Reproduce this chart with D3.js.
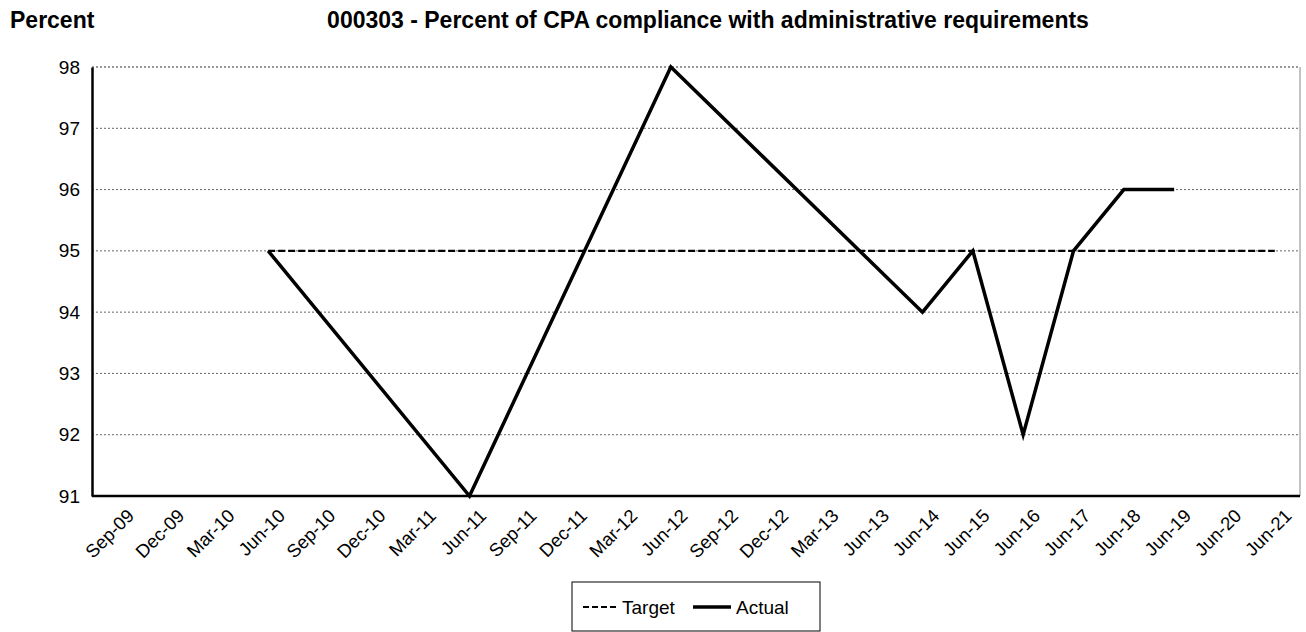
<!DOCTYPE html>
<html><head><meta charset="utf-8">
<script src="https://cdn.jsdelivr.net/npm/d3@7"></script>
<style>body{margin:0;background:#fff}text{font-family:"Liberation Sans",Arial,sans-serif}</style>
</head><body><svg id="c" width="1306" height="632"></svg>
<script>
const categories = ["Sep-09","Dec-09","Mar-10","Jun-10","Sep-10","Dec-10","Mar-11","Jun-11","Sep-11","Dec-11","Mar-12","Jun-12","Sep-12","Dec-12","Mar-13","Jun-13","Jun-14","Jun-15","Jun-16","Jun-17","Jun-18","Jun-19","Jun-20","Jun-21"];
const targetValues = [null,null,null,95,null,null,null,95,null,null,null,95,null,null,null,95,95,95,95,95,95,95,95,95];
const actualValues = [null,null,null,95,null,null,null,91,null,null,null,98,null,null,null,null,94,95,92,95,96,96,null,null];
const yTicks = [91,92,93,94,95,96,97,98];
const titleText = "000303 - Percent of CPA compliance with administrative requirements";
const yLabel = "Percent";

const svg = d3.select("#c");
const L=92, R=1300, T=67, B=496;
const FF = "Liberation Sans, Arial, sans-serif";
const x = d3.scaleBand().domain(categories).range([L,R]).padding(0);
const xc = c => x(c) + x.bandwidth()/2;
const y = d3.scaleLinear().domain([91,98]).range([B,T]);

// grid
svg.append("g").selectAll("line").data(yTicks.filter(v=>v>91)).join("line")
  .attr("x1",L).attr("x2",R).attr("y1",d=>y(d)).attr("y2",d=>y(d))
  .attr("stroke",d=>d===98?"#333":"#666").attr("stroke-width",1).attr("stroke-dasharray","2,2");
// right border
svg.append("line").attr("x1",R).attr("x2",R).attr("y1",T).attr("y2",B).attr("stroke","#888").attr("stroke-width",1);

// y axis
const ya = svg.append("g").attr("transform",`translate(${L},0)`).call(d3.axisLeft(y).tickValues(yTicks).tickFormat(d3.format("d")).tickSize(0).tickPadding(12));
ya.select(".domain").attr("stroke","#000").attr("stroke-width",2.5);
ya.selectAll("text").attr("font-size",19).attr("fill","#000").attr("font-family",FF);

// x axis
const xa = svg.append("g").attr("transform",`translate(0,${B})`).call(d3.axisBottom(x).tickSize(0).tickFormat(d=>d));
xa.select(".domain").attr("stroke","#000").attr("stroke-width",2.5).attr("d",`M${L},0H${R}`);
xa.selectAll("text").attr("font-size",18.5).attr("fill","#000").attr("font-family",FF)
  .attr("text-anchor","end").attr("dy",0).attr("y",0)
  .attr("transform","translate(18,21) rotate(-45)");

// lines
const lineGen = d3.line().x(d=>xc(d.c)).y(d=>y(d.v));
const tData = categories.map((c,i)=>({c,v:targetValues[i]})).filter(d=>d.v!=null);
const aData = categories.map((c,i)=>({c,v:actualValues[i]})).filter(d=>d.v!=null);
svg.append("path").datum(tData).attr("d",lineGen).attr("fill","none").attr("stroke","#000").attr("stroke-width",2.2).attr("stroke-dasharray","7,3");
svg.append("path").datum(aData).attr("d",lineGen).attr("fill","none").attr("stroke","#000").attr("stroke-width",3.5).attr("stroke-linejoin","miter");

// titles
svg.append("text").attr("x",10).attr("y",28).attr("font-size",23).attr("font-weight","bold").text(yLabel);
svg.append("text").attr("x",708).attr("y",28).attr("text-anchor","middle").attr("font-size",23).attr("font-weight","bold").text(titleText);

// legend
const lg = svg.append("g");
lg.append("rect").attr("x",572).attr("y",582).attr("width",248).attr("height",49).attr("fill","#fff").attr("stroke","#000").attr("stroke-width",1);
lg.append("line").attr("x1",583).attr("x2",619).attr("y1",607).attr("y2",607).attr("stroke","#000").attr("stroke-width",2.2).attr("stroke-dasharray","6,3");
lg.append("text").attr("x",622).attr("y",614).attr("font-size",19).text("Target");
lg.append("line").attr("x1",693).attr("x2",731).attr("y1",607).attr("y2",607).attr("stroke","#000").attr("stroke-width",3.5);
lg.append("text").attr("x",736).attr("y",614).attr("font-size",19).text("Actual");
</script></body></html>
